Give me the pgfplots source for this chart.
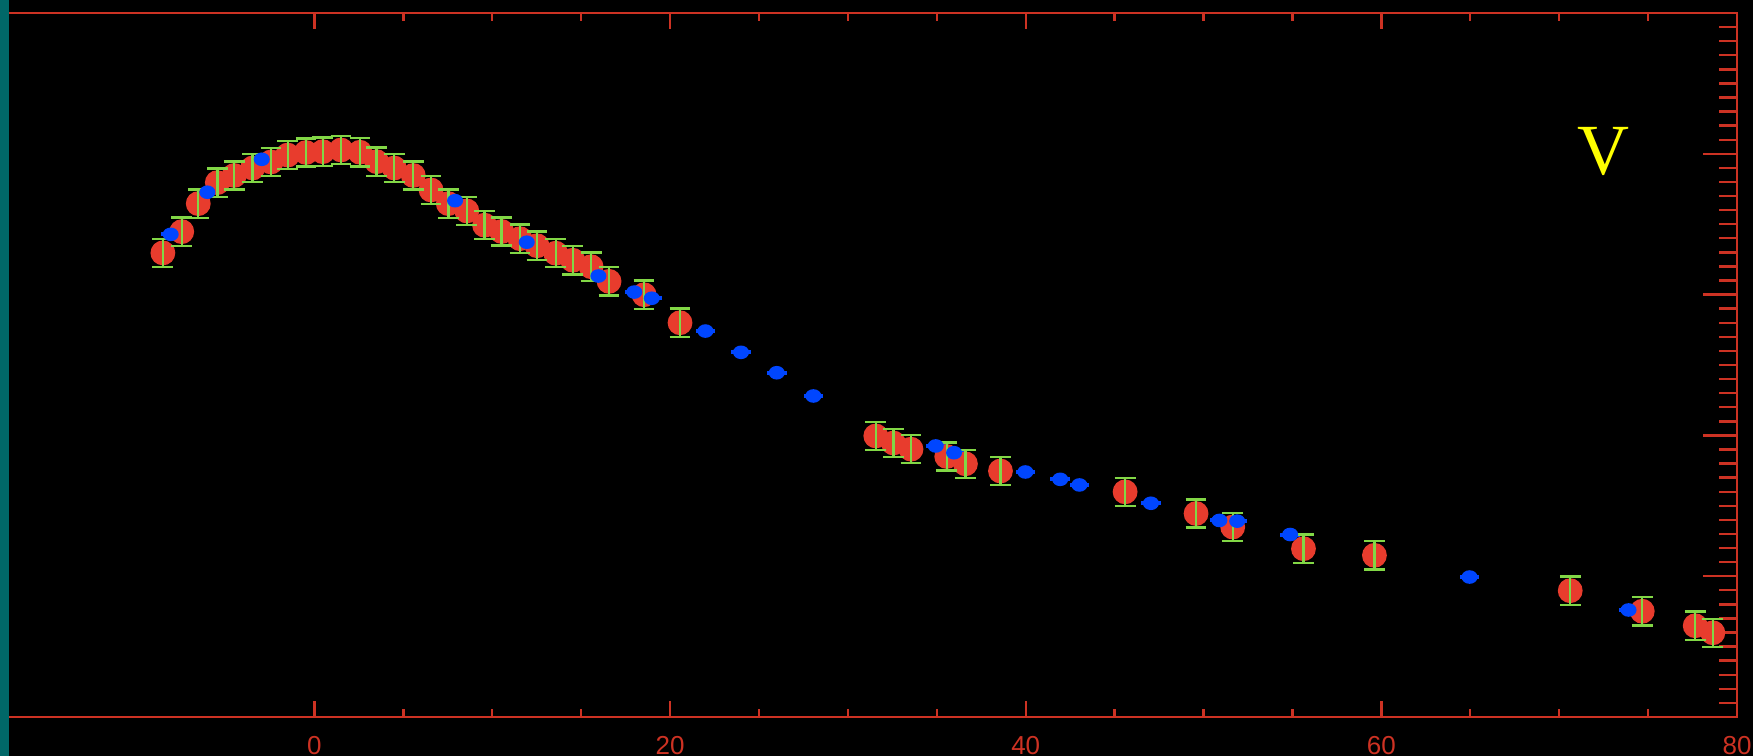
\documentclass[border=0pt]{standalone}
\usepackage{fontspec}
\setmainfont{Liberation Sans}
\newfontfamily\seriffont{Liberation Serif}
\usepackage{pgfplots}
\pgfplotsset{compat=1.18}
\definecolor{axred}{RGB}{205,50,35}
\definecolor{ptred}{RGB}{232,60,45}
\definecolor{errgreen}{RGB}{130,215,70}
\definecolor{ptblue}{RGB}{0,70,255}
\definecolor{tealc}{RGB}{0,104,104}
\definecolor{vyellow}{RGB}{255,255,0}

% error bar of +-0.1 y units (0.1 * 176pt/5 = 3.52pt) drawn as a mark
\pgfdeclareplotmark{errI}{%
  \pgfpathmoveto{\pgfqpoint{0pt}{-3.52pt}}\pgfpathlineto{\pgfqpoint{0pt}{3.52pt}}%
  \pgfpathmoveto{\pgfqpoint{-2.6pt}{3.52pt}}\pgfpathlineto{\pgfqpoint{2.6pt}{3.52pt}}%
  \pgfpathmoveto{\pgfqpoint{-2.6pt}{-3.52pt}}\pgfpathlineto{\pgfqpoint{2.6pt}{-3.52pt}}%
  \pgfusepathqstroke}

\pgfplotstableread{
x y
-8.52 3.296
-7.46 3.447
-6.53 3.646
-5.46 3.795
-4.51 3.846
-3.47 3.899
-2.44 3.942
-1.50 3.991
-0.47 4.009
0.47 4.015
1.50 4.027
2.56 4.011
3.50 3.944
4.49 3.899
5.56 3.846
6.56 3.743
7.53 3.646
8.57 3.594
9.57 3.493
10.53 3.448
11.56 3.397
12.52 3.347
13.57 3.294
14.53 3.244
15.56 3.198
16.57 3.094
18.54 2.999
20.56 2.800
31.57 1.996
32.56 1.946
33.55 1.902
35.56 1.850
36.61 1.798
38.58 1.747
45.59 1.599
49.58 1.445
51.64 1.349
55.62 1.195
59.61 1.148
70.62 0.897
74.67 0.751
77.65 0.648
78.64 0.598
}\reddata

\pgfplotstableread{
x y
-8.08 3.428
-6.02 3.727
-2.96 3.961
7.91 3.667
11.94 3.372
15.97 3.132
17.99 3.018
18.97 2.974
21.99 2.741
23.99 2.590
26.00 2.445
28.06 2.280
34.94 1.925
35.97 1.877
39.98 1.740
41.94 1.688
43.02 1.648
47.04 1.518
50.89 1.396
51.89 1.391
54.87 1.296
64.96 0.994
73.90 0.760
}\bluedata

\begin{document}
\begin{tikzpicture}
\useasboundingbox (0,0) rectangle (438.25pt,189pt);
\fill[black] (0,0) rectangle (438.25pt,189pt);
\begin{axis}[
  at={(2pt,9.75pt)}, anchor=south west,
  scale only axis, width=432.25pt, height=176pt,
  xmin=-17.23, xmax=80, ymin=0, ymax=5,
  axis line style={axred, line width=0.6pt},
  tick align=inside,
  xtick={0,20,40,60,80}, minor x tick num=3,
  ytick={0,1,2,3,4,5}, minor y tick num=9,
  xtick pos=both, ytick pos=right,
  xticklabel pos=bottom,
  yticklabels={},
  every tick/.style={axred, line width=0.6pt},
  major x tick style={/pgfplots/major tick length=4pt},
  minor x tick style={/pgfplots/minor tick length=2pt},
  major y tick style={/pgfplots/major tick length=8.5pt},
  minor y tick style={/pgfplots/minor tick length=4.5pt},
  xticklabel style={text=axred, font=\fontsize{6.5}{7}\selectfont, yshift=-1.2pt},
  /pgf/number format/assume math mode=true,
]
\addplot[only marks, mark=*, mark size=2.9pt, color=ptred, mark options={fill=ptred, draw=ptred}] table {\reddata};
\addplot[only marks, mark=errI, mark options={draw=errgreen, line width=0.6pt, solid}] table {\reddata};
\addplot[only marks, mark=*, mark size=1.5pt, color=ptblue, mark options={xscale=1.2, fill=ptblue, draw=ptblue},
  error bars/.cd, x dir=both, x fixed=0.55,
  error bar style={draw=ptblue, line width=1pt},
  error mark=none]
  table {\bluedata};
\node[text=vyellow, font=\seriffont\fontsize{18}{20}\selectfont] at (axis cs:72.5,4.02) {V};
\end{axis}
\fill[tealc] (0,0) rectangle (2.35pt,189pt);
\end{tikzpicture}
\end{document}
